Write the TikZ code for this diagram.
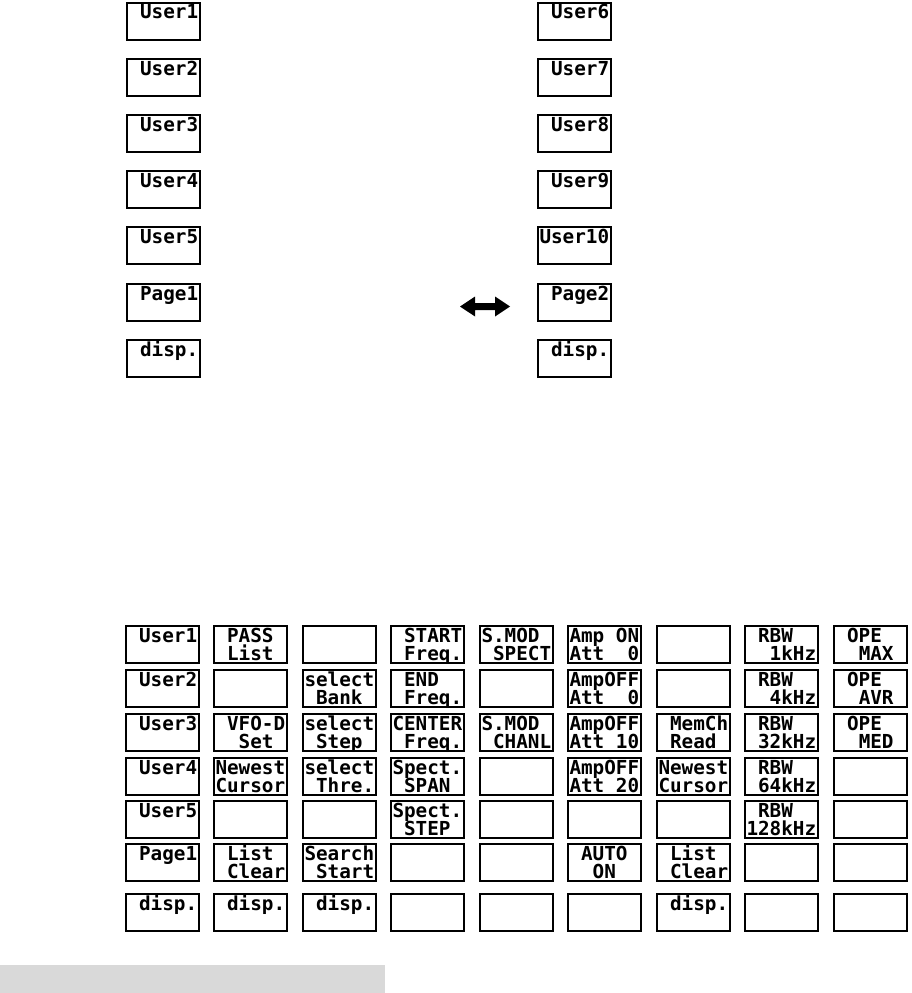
\documentclass[tikz,border=0pt]{standalone}
\usepackage{fontspec}
\newfontfamily\pix{DejaVu Sans Mono}
\newcommand\SP{\hspace*{11.62pt}}
\tikzset{
  key/.style={draw=black, line width=2pt, minimum width=73pt, minimum height=37pt,
    anchor=north west, inner sep=0pt, outer sep=0pt},
  lbl/.style={anchor=base west, inner sep=0pt, outer sep=0pt,
    font=\pix\bfseries\fontsize{19.3}{19}\selectfont},
}
% \keybox{name}{left}{top}{line1}{line2}
\newcommand\keybox[5]{%
  \node[key] (#1) at (#2+1,#3+1) {};
  \node[lbl] (#1-a) at (#2+2.5,#3+17) {#4};
  \node[lbl] (#1-b) at (#2+2.5,#3+35) {#5};
}
\begin{document}
\begin{tikzpicture}[x=1pt,y=-1pt]
\useasboundingbox (0,0) rectangle (911,993);
\fill[white] (0,0) rectangle (911,993);
% ---------- top section ----------
\keybox{tl1}{126}{2}{\SP User1}{}
\keybox{tl2}{126}{58}{\SP User2}{}
\keybox{tl3}{126}{114}{\SP User3}{}
\keybox{tl4}{126}{170}{\SP User4}{}
\keybox{tl5}{126}{226}{\SP User5}{}
\keybox{tl6}{126}{283}{\SP Page1}{}
\keybox{tl7}{126}{339}{\SP disp.}{}
\keybox{tr1}{537}{2}{\SP User6}{}
\keybox{tr2}{537}{58}{\SP User7}{}
\keybox{tr3}{537}{114}{\SP User8}{}
\keybox{tr4}{537}{170}{\SP User9}{}
\keybox{tr5}{537}{226}{User10}{}
\keybox{tr6}{537}{283}{\SP Page2}{}
\keybox{tr7}{537}{339}{\SP disp.}{}
% double arrow
\coordinate (arr) at (485,306.5);
\fill[black] (460,306.5) -- (475,296.5) -- (475,303) -- (495,303) -- (495,296.5)
  -- (510,306.5) -- (495,316.5) -- (495,310) -- (475,310) -- (475,316.5) -- cycle;
% ---------- bottom grid ----------
% column 1
\keybox{a1}{125}{625}{\SP User1}{}
\keybox{a2}{125}{669}{\SP User2}{}
\keybox{a3}{125}{713}{\SP User3}{}
\keybox{a4}{125}{757}{\SP User4}{}
\keybox{a5}{125}{800}{\SP User5}{}
\keybox{a6}{125}{843}{\SP Page1}{}
\keybox{a7}{125}{893}{\SP disp.}{}
% column 2
\keybox{b1}{213}{625}{\SP PASS}{\SP List}
\keybox{b2}{213}{669}{}{}
\keybox{b3}{213}{713}{\SP VFO-D}{\SP\SP Set}
\keybox{b4}{213}{757}{Newest}{Cursor}
\keybox{b5}{213}{800}{}{}
\keybox{b6}{213}{843}{\SP List}{\SP Clear}
\keybox{b7}{213}{893}{\SP disp.}{}
% column 3
\keybox{c1}{302}{625}{}{}
\keybox{c2}{302}{669}{select}{\SP Bank}
\keybox{c3}{302}{713}{select}{\SP Step}
\keybox{c4}{302}{757}{select}{\SP Thre.}
\keybox{c5}{302}{800}{}{}
\keybox{c6}{302}{843}{Search}{\SP Start}
\keybox{c7}{302}{893}{\SP disp.}{}
% column 4
\keybox{d1}{390}{625}{\SP START}{\SP Freq.}
\keybox{d2}{390}{669}{\SP END}{\SP Freq.}
\keybox{d3}{390}{713}{CENTER}{\SP Freq.}
\keybox{d4}{390}{757}{Spect.}{\SP SPAN}
\keybox{d5}{390}{800}{Spect.}{\SP STEP}
\keybox{d6}{390}{843}{}{}
\keybox{d7}{390}{893}{}{}
% column 5
\keybox{e1}{479}{625}{S.MOD}{\SP SPECT}
\keybox{e2}{479}{669}{}{}
\keybox{e3}{479}{713}{S.MOD}{\SP CHANL}
\keybox{e4}{479}{757}{}{}
\keybox{e5}{479}{800}{}{}
\keybox{e6}{479}{843}{}{}
\keybox{e7}{479}{893}{}{}
% column 6
\keybox{f1}{567}{625}{Amp\SP ON}{Att\SP\SP 0}
\keybox{f2}{567}{669}{AmpOFF}{Att\SP\SP 0}
\keybox{f3}{567}{713}{AmpOFF}{Att\SP 10}
\keybox{f4}{567}{757}{AmpOFF}{Att\SP 20}
\keybox{f5}{567}{800}{}{}
\keybox{f6}{567}{843}{\SP AUTO}{\SP\SP ON}
\keybox{f7}{567}{893}{}{}
% column 7
\keybox{g1}{656}{625}{}{}
\keybox{g2}{656}{669}{}{}
\keybox{g3}{656}{713}{\SP MemCh}{\SP Read}
\keybox{g4}{656}{757}{Newest}{Cursor}
\keybox{g5}{656}{800}{}{}
\keybox{g6}{656}{843}{\SP List}{\SP Clear}
\keybox{g7}{656}{893}{\SP disp.}{}
% column 8
\keybox{h1}{744}{625}{\SP RBW}{\SP\SP 1kHz}
\keybox{h2}{744}{669}{\SP RBW}{\SP\SP 4kHz}
\keybox{h3}{744}{713}{\SP RBW}{\SP 32kHz}
\keybox{h4}{744}{757}{\SP RBW}{\SP 64kHz}
\keybox{h5}{744}{800}{\SP RBW}{128kHz}
\keybox{h6}{744}{843}{}{}
\keybox{h7}{744}{893}{}{}
% column 9
\keybox{i1}{833}{625}{\SP OPE}{\SP\SP MAX}
\keybox{i2}{833}{669}{\SP OPE}{\SP\SP AVR}
\keybox{i3}{833}{713}{\SP OPE}{\SP\SP MED}
\keybox{i4}{833}{757}{}{}
\keybox{i5}{833}{800}{}{}
\keybox{i6}{833}{843}{}{}
\keybox{i7}{833}{893}{}{}
% grey bar
\fill[fill={rgb,255:red,217;green,217;blue,217}] (0,965) rectangle (385,993);
\end{tikzpicture}
\end{document}
